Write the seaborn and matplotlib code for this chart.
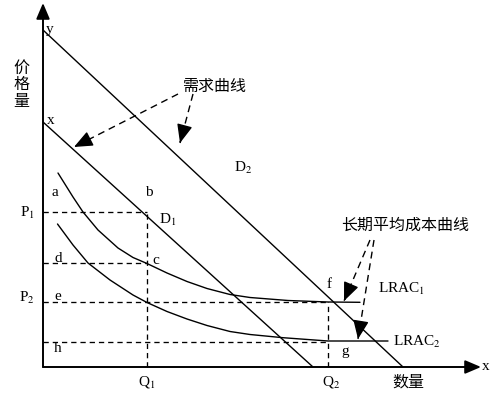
import numpy as np
import pandas as pd
import matplotlib
matplotlib.use("Agg")
import matplotlib.pyplot as plt
import seaborn as sns

sns.set_theme(style="white")
plt.rcParams["font.family"] = ["Liberation Serif", "Noto Sans CJK SC"]
plt.rcParams["mathtext.fontset"] = "stix"

# ---- data ----
Q1, Q2 = 10.4, 28.5
P1, Pd, P2, Ph = 15.5, 10.4, 6.5, 2.55

d1_x = [0.0, 27.0]
d1_y = [24.5, 0.0]
d2_x = [0.0, 36.0]
d2_y = [33.7, 0.0]

lrac1_x = [1.5, 3.0, 4.0, 5.5, 7.5, 9.0, 10.4, 12.4, 14.4, 16.4, 18.7, 20.7, 24.5, 28.5, 31.7]
lrac1_y = [19.4, 17.0, 15.5, 13.7, 11.9, 10.95, 10.35, 9.4, 8.55, 7.85, 7.25, 6.95, 6.65, 6.5, 6.47]

lrac2_x = [1.45, 3.0, 4.5, 6.7, 9.0, 10.4, 12.4, 14.4, 16.4, 18.7, 20.7, 24.0, 28.5, 34.5]
lrac2_y = [14.3, 12.2, 10.4, 8.7, 7.2, 6.45, 5.55, 4.8, 4.15, 3.55, 3.25, 2.93, 2.6, 2.6]

fig = plt.figure(figsize=(5.0, 3.99), dpi=100)
ax = fig.add_axes([0, 0, 1, 1])
ax.set_xlim(-4.3, 45.7)
ax.set_ylim(-3.2, 36.7)
ax.axis("off")

lw = 1.0
for xs, ys in [(d1_x, d1_y), (d2_x, d2_y), (lrac1_x, lrac1_y), (lrac2_x, lrac2_y)]:
    sns.lineplot(x=xs, y=ys, ax=ax, color="black", lw=lw, sort=False, estimator=None)

# dashed guide lines
dash = (0, (4, 3))
guides = [
    ([0, Q1], [P1, P1]),
    ([Q1, Q1], [0, P1]),
    ([0, Q1], [Pd, Pd]),
    ([0, Q2], [P2, P2]),
    ([0, Q2], [Ph, Ph]),
    ([Q2, Q2], [0, P2]),
]
for xs, ys in guides:
    ax.plot(xs, ys, color="black", lw=0.95, linestyle=dash)

# axes with arrows
ax_style = "-|>,head_length=0.8,head_width=0.34"
ax.annotate("", xy=(0, 36.4), xytext=(0, 0),
            arrowprops=dict(arrowstyle=ax_style, lw=1.4, color="black",
                            shrinkA=0, shrinkB=0))
ax.annotate("", xy=(43.8, 0), xytext=(0, 0),
            arrowprops=dict(arrowstyle=ax_style, lw=1.4, color="black",
                            shrinkA=0, shrinkB=0))

# dashed annotation arrows (dashed shaft + solid head)
arr_style = "-|>,head_length=0.95,head_width=0.4"
arrows = [
    ((13.5, 27.3), (3.1, 22.0)),
    ((15.0, 27.3), (13.7, 22.4)),
    ((32.7, 12.7), (30.1, 6.6)),
    ((33.1, 12.7), (31.5, 2.8)),
]
for (x0, y0), (x1, y1) in arrows:
    ax.plot([x0, x1], [y0, y1], color="black", lw=1.0, linestyle=(0, (5, 3.5)))
    f = 0.97
    ax.annotate("", xy=(x1, y1), xytext=(x0 + f * (x1 - x0), y0 + f * (y1 - y0)),
                arrowprops=dict(arrowstyle=arr_style, lw=1.0, color="black",
                                shrinkA=0, shrinkB=0))

# text
fs = 11
cjk = 11.5
def t(x, y, s, size=fs, ha="center", va="center", **kw):
    ax.text(x, y, s, fontsize=size, ha=ha, va=va, color="black", **kw)

t(0.7, 33.8, "y")
t(0.75, 24.7, "x")
t(-2.15, 28.2, "价\n格\n量", size=cjk, linespacing=1.05)
t(17.2, 28.0, "需求曲线", size=cjk)
t(20.0, 19.9, r"D$_2$")
t(1.2, 17.5, "a")
t(10.55, 17.5, "b")
t(-1.6, 15.4, r"P$_1$")
t(12.5, 14.7, r"D$_1$")
t(1.5, 10.9, "d")
t(11.3, 10.6, "c")
t(-1.6, 6.9, r"P$_2$")
t(1.5, 7.1, "e")
t(1.5, 1.9, "h")
t(10.4, -1.5, r"Q$_1$")
t(28.8, -1.5, r"Q$_2$")
t(36.5, -1.6, "数量", size=cjk)
t(44.3, 0.0, "x")
t(28.6, 8.3, "f")
t(30.2, 1.6, "g")
t(33.5, 7.8, r"LRAC$_1$", ha="left")
t(35.0, 2.5, r"LRAC$_2$", ha="left")
t(36.2, 14.1, "长期平均成本曲线", size=cjk)

fig.savefig("out.png", dpi=100)
